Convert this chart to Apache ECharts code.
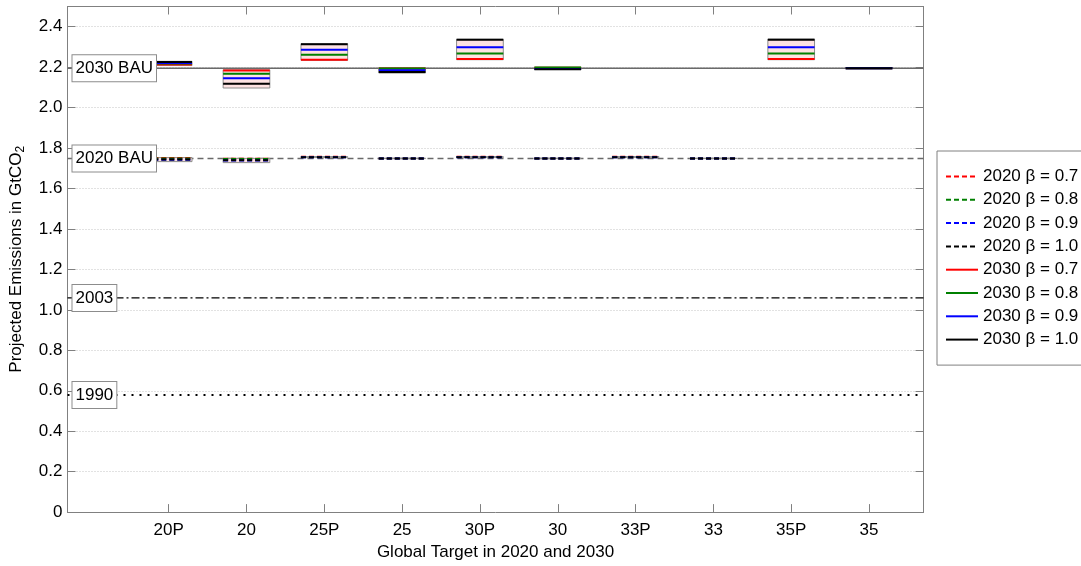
<!DOCTYPE html>
<html lang="en">
<head>
    <meta charset="UTF-8">
    <title>Projected Emissions</title>
    <script src="https://fastly.jsdelivr.net/npm/echarts@6.0.0/dist/echarts.min.js"></script>
    <style>
        body { margin: 0; background: #fff; }
        #chart { width: 1081px; height: 566px; }
    </style>
</head>
<body>
    <div id="chart"></div>

    <script>
        // categories on the x axis (drawn at 1..10)
        var xLabels = ['20P', '20', '25P', '25', '30P', '30', '33P', '33', '35P', '35'];
        var xPos = [1, 2, 3, 4, 5, 6, 7, 8, 9, 10];
        var yTicks = [0, 0.2, 0.4, 0.6, 0.8, 1.0, 1.2, 1.4, 1.6, 1.8, 2.0, 2.2, 2.4];

        // 2020 emissions per beta
        var e2020_b07 = [1.751, 1.747, 1.757, 1.749, 1.757, 1.749, 1.757, 1.749, null, null];
        var e2020_b08 = [1.749, 1.746, 1.756, 1.749, 1.756, 1.749, 1.756, 1.749, null, null];
        var e2020_b09 = [1.742, 1.738, 1.755, 1.749, 1.755, 1.749, 1.755, 1.749, null, null];
        var e2020_b10 = [1.744, 1.740, 1.754, 1.749, 1.754, 1.749, 1.754, 1.749, null, null];
        // 2030 emissions per beta
        var e2030_b07 = [2.213, 2.183, 2.237, 2.193, 2.240, 2.197, null, null, 2.240, 2.195];
        var e2030_b08 = [2.218, 2.168, 2.261, 2.193, 2.267, 2.198, null, null, 2.267, 2.195];
        var e2030_b09 = [2.221, 2.145, 2.286, 2.185, 2.299, 2.191, null, null, 2.299, 2.195];
        var e2030_b10 = [2.226, 2.118, 2.313, 2.176, 2.335, 2.190, null, null, 2.336, 2.195];
        // shaded ranges
        var box2020Lo = [1.733, 1.728, 1.753, 1.748, 1.753, 1.748, 1.753, 1.748, null, null];
        var box2020Hi = [1.753, 1.749, 1.758, 1.750, 1.758, 1.750, 1.758, 1.750, null, null];
        var box2030Lo = [2.208, 2.097, 2.234, 2.171, 2.237, 2.189, null, null, 2.237, 2.194];
        var box2030Hi = [2.229, 2.187, 2.316, 2.196, 2.338, 2.199, null, null, 2.339, 2.196];

        // reference levels
        var refNames = ['2030 BAU', '2020 BAU', '2003', '1990'];
        var refValues = [2.195, 1.749, 1.059, 0.579];

        var xMin = -0.3, xMax = 10.7, halfW = 0.3;
        var FONT = 'Liberation Sans, Arial, sans-serif';

        function segData(vals) {
            var d = [];
            vals.forEach(function (v, i) {
                if (v === null) return;
                d.push([xPos[i] - halfW, v], [xPos[i] + halfW, v], [xPos[i], '-']);
            });
            return d;
        }
        function boxData(lo, hi) {
            var d = [];
            lo.forEach(function (v, i) {
                if (v === null) return;
                d.push([xPos[i], v, hi[i]]);
            });
            return d;
        }
        function renderBox(params, api) {
            var x = api.value(0);
            var p1 = api.coord([x - halfW, api.value(2)]);
            var p2 = api.coord([x + halfW, api.value(1)]);
            return {
                type: 'rect',
                shape: { x: p1[0], y: p1[1], width: p2[0] - p1[0], height: p2[1] - p1[1] },
                style: { fill: '#fde2e2', stroke: '#8c8c8c', lineWidth: 1 }
            };
        }

        var colors = ['#ff0000', '#008000', '#0000ff', '#000000'];
        var betaNames = ['0.7', '0.8', '0.9', '1.0'];
        var s2020 = [e2020_b07, e2020_b08, e2020_b09, e2020_b10];
        var s2030 = [e2030_b07, e2030_b08, e2030_b09, e2030_b10];
        var legendNames = [];
        var series = [];

        // reference lines
        var refStyles = [
            { color: '#6a6a6a', width: 1.5, type: 'solid' },
            { color: '#6a6a6a', width: 1.5, type: [6, 4] },
            { color: '#000000', width: 1.2, type: [8, 3, 2, 3] },
            { color: '#000000', width: 2, type: [2, 6] }
        ];
        refValues.forEach(function (v, i) {
            series.push({
                name: refNames[i], type: 'line', symbol: 'none', silent: true, z: 1,
                data: [[xMin, v], [xMax, v]],
                lineStyle: refStyles[i]
            });
        });

        series.push({
            name: 'box2030', type: 'custom', z: 2, silent: true,
            renderItem: renderBox, encode: { x: 0, y: [1, 2] },
            data: boxData(box2030Lo, box2030Hi)
        });
        series.push({
            name: 'box2020', type: 'custom', z: 2, silent: true,
            renderItem: renderBox, encode: { x: 0, y: [1, 2] },
            data: boxData(box2020Lo, box2020Hi)
        });

        s2020.forEach(function (vals, k) {
            var n = '2020 β = ' + betaNames[k];
            legendNames.push(n);
            series.push({
                name: n, type: 'line', symbol: 'none', z: 3, connectNulls: false,
                data: segData(vals),
                lineStyle: { color: colors[k], width: 2, type: [5, 3] },
                itemStyle: { color: colors[k] }
            });
        });
        s2030.forEach(function (vals, k) {
            var n = '2030 β = ' + betaNames[k];
            legendNames.push(n);
            series.push({
                name: n, type: 'line', symbol: 'none', z: 3, connectNulls: false,
                data: segData(vals),
                lineStyle: { color: colors[k], width: 2, type: 'solid' },
                itemStyle: { color: colors[k] }
            });
        });

        // boxed labels on the reference lines
        series.push({
            name: 'refLabels', type: 'custom', z: 5, silent: true, clip: false,
            data: refValues.map(function (v, i) { return [xMin, v, i]; }),
            encode: { x: 0, y: 1 },
            renderItem: function (params, api) {
                var p = api.coord([api.value(0), api.value(1)]);
                return {
                    type: 'text',
                    x: p[0] + 5, y: p[1],
                    style: {
                        text: refNames[api.value(2)],
                        font: '17px ' + FONT,
                        fill: '#000',
                        verticalAlign: 'middle',
                        backgroundColor: '#fff',
                        borderColor: '#8c8c8c',
                        borderWidth: 1,
                        padding: [5, 3, 4, 3]
                    }
                };
            }
        });

        var tickCommon = { inside: true, length: 8, lineStyle: { color: '#808080' } };
        var lineCommon = { show: true, onZero: false, lineStyle: { color: '#808080' } };

        var option = {
            animation: false,
            textStyle: { fontFamily: FONT },
            grid: { left: 67.5, right: 157.5, top: 6.5, bottom: 51.3 },
            legend: {
                data: legendNames,
                orient: 'vertical',
                left: 937, top: 151,
                padding: [17, 12, 17, 8],
                itemWidth: 32, itemHeight: 14, itemGap: 6.3,
                itemStyle: { opacity: 0 },
                backgroundColor: '#fff',
                borderColor: '#808080', borderWidth: 1, borderRadius: 0,
                textStyle: { fontSize: 17, color: '#000', fontFamily: FONT },
                selectedMode: false
            },
            xAxis: [{
                type: 'value', min: xMin, max: xMax, position: 'bottom',
                name: 'Global Target in 2020 and 2030',
                nameLocation: 'middle', nameGap: 28,
                nameTextStyle: { fontSize: 17, color: '#000' },
                axisLine: lineCommon,
                axisTick: Object.assign({ customValues: xPos }, tickCommon),
                axisLabel: {
                    customValues: xPos, margin: 10, fontSize: 17, color: '#000',
                    formatter: function (v) { return xLabels[Math.round(v) - 1]; }
                },
                splitLine: { show: false }
            }, {
                type: 'value', min: xMin, max: xMax, position: 'top',
                axisLine: lineCommon,
                axisTick: Object.assign({ customValues: xPos }, tickCommon),
                axisLabel: { show: false },
                splitLine: { show: false }
            }],
            yAxis: [{
                type: 'value', min: 0, max: 2.5, interval: 0.2, position: 'left',
                name: 'Projected Emissions in GtCO{sub|2}',
                nameLocation: 'middle', nameGap: 41,
                nameTextStyle: {
                    fontSize: 17, color: '#000',
                    rich: { sub: { fontSize: 12, color: '#000', verticalAlign: 'bottom', padding: [8, 0, 0, 0] } }
                },
                axisLine: lineCommon,
                axisTick: Object.assign({ customValues: yTicks }, tickCommon),
                axisLabel: {
                    customValues: yTicks, margin: 5, fontSize: 17, color: '#000',
                    formatter: function (v) { return v === 0 ? '0' : v.toFixed(1); }
                },
                splitLine: { show: true, lineStyle: { color: '#c4c4c4', type: [1, 2], width: 1 } }
            }, {
                type: 'value', min: 0, max: 2.5, interval: 0.2, position: 'right',
                axisLine: lineCommon,
                axisTick: Object.assign({ customValues: yTicks }, tickCommon),
                axisLabel: { show: false },
                splitLine: { show: false }
            }],
            series: series
        };

        var myChart = echarts.init(document.getElementById('chart'));
        myChart.setOption(option);
    </script>
</body>
</html>
